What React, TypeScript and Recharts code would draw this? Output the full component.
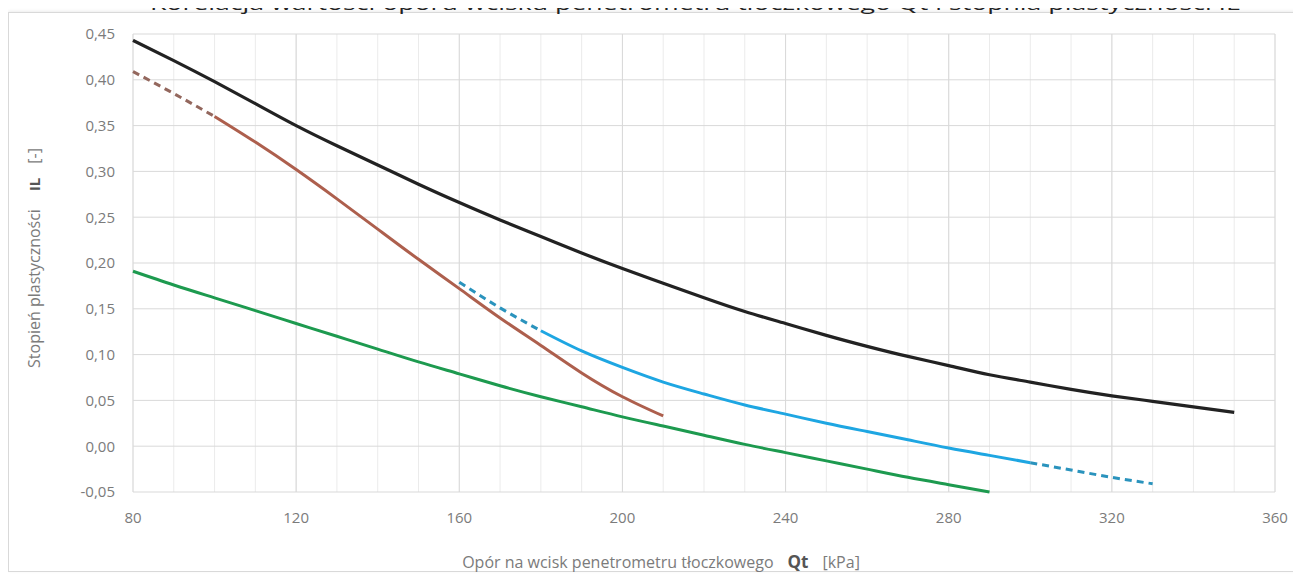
import { LineChart, Line, XAxis, YAxis, CartesianGrid, ReferenceLine } from 'recharts';

// Qt [kPa] sampling every 10
const qt = [80, 90, 100, 110, 120, 130, 140, 150, 160, 170, 180, 190, 200, 210, 220, 230, 240, 250, 260, 270, 280, 290, 300, 310, 320, 330, 340, 350];

// IL values
const blackIL = [0.443, 0.421, 0.398, 0.374, 0.350, 0.328, 0.307, 0.286, 0.266, 0.247, 0.229, 0.211, 0.194, 0.178, 0.162, 0.147, 0.134, 0.121, 0.109, 0.098, 0.088, 0.078, 0.070, 0.062, 0.055, 0.049, 0.043, 0.037];
const brownIL = [0.409, 0.385, 0.360, 0.332, 0.302, 0.270, 0.237, 0.204, 0.172, 0.140, 0.110, 0.080, 0.054, 0.033]; // 80..210
const blueIL = [0.179, 0.151, 0.126, 0.104, 0.086, 0.070, 0.057, 0.045, 0.035, 0.025, 0.016, 0.007, -0.002, -0.010, -0.018, -0.026, -0.034, -0.041]; // 160..330
const greenIL = [0.191, 0.176, 0.162, 0.148, 0.134, 0.120, 0.106, 0.092, 0.079, 0.066, 0.054, 0.043, 0.032, 0.022, 0.012, 0.002, -0.007, -0.016, -0.025, -0.034, -0.042, -0.050]; // 80..290

const brownStart = 80;
const blueStart = 160;
const greenStart = 80;

const xTicks = [80, 90, 100, 110, 120, 130, 140, 150, 160, 170, 180, 190, 200, 210, 220, 230, 240, 250, 260, 270, 280, 290, 300, 310, 320, 330, 340, 350, 360];
const xMajor = [80, 120, 160, 200, 240, 280, 320, 360];
const yTicks = [-0.05, 0, 0.05, 0.1, 0.15, 0.2, 0.25, 0.3, 0.35, 0.4, 0.45];

const pick = (arr: number[], start: number, q: number, from: number, to: number) => {
  if (q < from || q > to) return null;
  const v = arr[(q - start) / 10];
  return v === undefined ? null : v;
};

const data = qt.map((q) => ({
  qt: q,
  black: blackIL[(q - 80) / 10],
  brownDash: pick(brownIL, brownStart, q, 80, 100),
  brown: pick(brownIL, brownStart, q, 100, 210),
  blueDash1: pick(blueIL, blueStart, q, 160, 180),
  blue: pick(blueIL, blueStart, q, 180, 300),
  blueDash2: pick(blueIL, blueStart, q, 300, 330),
  green: pick(greenIL, greenStart, q, 80, 290),
}));

const font = '"Open Sans", "Liberation Sans", sans-serif';
const gray = '#7b7b7b';

const fmtY = (v: number) => v.toFixed(2).replace('.', ',');
const fmtX = (v: number) => (v % 40 === 0 ? String(v) : '');

export default function App() {
  return (
    <div style={{ position: 'relative', width: 1301, height: 579, margin: '-8px 0 0 -8px', overflow: 'hidden', background: '#fff', fontFamily: font }}>
      <div style={{ position: 'absolute', left: 8, top: 12, width: 1289, height: 560, border: '1px solid #d9d9d9', boxShadow: '0 -1px 3px rgba(0,0,0,0.08)', boxSizing: 'border-box' }} />
      <div style={{ position: 'absolute', left: 0, top: 0 }}>
        <LineChart width={1301} height={579} data={data} margin={{ top: 34, right: 26, bottom: 47, left: 73 }}>
          <CartesianGrid stroke="#ebebeb" strokeWidth={1} horizontal={false} />
          {xMajor.map((x) => (
            <ReferenceLine key={x} x={x} stroke="#d9d9d9" strokeWidth={1} />
          ))}
          {yTicks.map((y) => (
            <ReferenceLine key={y} y={y} stroke="#d9d9d9" strokeWidth={1} />
          ))}
          <XAxis
            dataKey="qt"
            type="number"
            domain={[80, 360]}
            ticks={xTicks}
            tickFormatter={fmtX}
            axisLine={false}
            tickLine={false}
            tickSize={6}
            tickMargin={14}
            height={40}
            interval={0}
            tick={{ fill: gray, fontSize: 15, fontFamily: font }}
          />
          <YAxis
            type="number"
            domain={[-0.05, 0.45]}
            ticks={yTicks}
            tickFormatter={fmtY}
            axisLine={false}
            tickLine={false}
            tickSize={6}
            tickMargin={12}
            width={60}
            interval={0}
            tick={{ fill: gray, fontSize: 15, fontFamily: font }}
          />
          <Line dataKey="green" type="natural" stroke="#1d9a4f" strokeWidth={3} dot={false} isAnimationActive={false} />
          <Line dataKey="blueDash1" type="natural" stroke="#2a93bd" strokeWidth={3} strokeDasharray="7 5" dot={false} isAnimationActive={false} />
          <Line dataKey="blue" type="natural" stroke="#1ea6e2" strokeWidth={3} dot={false} isAnimationActive={false} />
          <Line dataKey="blueDash2" type="natural" stroke="#2a93bd" strokeWidth={3} strokeDasharray="7 5" dot={false} isAnimationActive={false} />
          <Line dataKey="brownDash" type="natural" stroke="#93675d" strokeWidth={3} strokeDasharray="7 5" dot={false} isAnimationActive={false} />
          <Line dataKey="brown" type="natural" stroke="#ad5f4d" strokeWidth={3} dot={false} isAnimationActive={false} />
          <Line dataKey="black" type="natural" stroke="#222222" strokeWidth={3.2} dot={false} isAnimationActive={false} />
        </LineChart>
      </div>
      <svg width={1301} height={579} style={{ position: 'absolute', left: 0, top: 0, pointerEvents: 'none' }}>
        <text x={150} y={10} fontSize={19} fill="#222" fontFamily={font} textLength={1090} lengthAdjust="spacingAndGlyphs">
          Korelacja wartości oporu wcisku penetrometru tłoczkowego Qt i stopnia plastyczności IL
        </text>
        <text transform="translate(40, 258) rotate(-90)" textAnchor="middle" fontSize={16} fill={gray} fontFamily={font}>
          Stopień plastyczności
          <tspan dx={18} fontWeight="bold" fontSize={15} fill="#555">IL</tspan>
          <tspan dx={14}>[-]</tspan>
        </text>
        <text x={661} y={568} textAnchor="middle" fontSize={16} fill={gray} fontFamily={font}>
          Opór na wcisk penetrometru tłoczkowego
          <tspan dx={14} fontWeight="bold" fontSize={17} fill="#555">Qt</tspan>
          <tspan dx={14}>[kPa]</tspan>
        </text>
      </svg>
    </div>
  );
}
